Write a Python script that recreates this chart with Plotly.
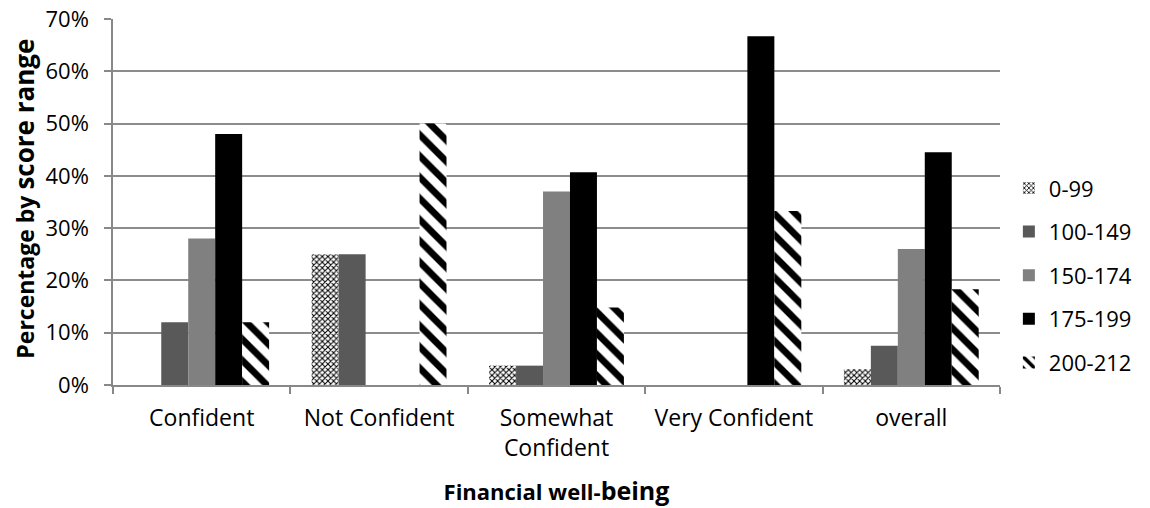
import plotly.graph_objects as go

categories = ["Confident", "Not Confident", "Somewhat<br>Confident", "Very Confident", "overall"]
series_names = ["0-99", "100-149", "150-174", "175-199", "200-212"]
v_0_99 = [0.0, 25.0, 3.7, 0.0, 3.0]
v_100_149 = [12.0, 25.0, 3.7, 0.0, 7.5]
v_150_174 = [28.0, 0.0, 37.0, 0.0, 26.0]
v_175_199 = [48.0, 0.0, 40.7, 66.7, 44.5]
v_200_212 = [12.0, 50.0, 14.8, 33.3, 18.3]
y_ticks = [0, 10, 20, 30, 40, 50, 60, 70]
y_tick_labels = ["0%", "10%", "20%", "30%", "40%", "50%", "60%", "70%"]

values = [v_0_99, v_100_149, v_150_174, v_175_199, v_200_212]
FONT = "Open Sans"

styles = [
    dict(color="white", pattern=dict(shape="x", size=4, solidity=0.45, fgcolor="#000000", bgcolor="#ffffff", fillmode="replace")),
    dict(color="#595959"),
    dict(color="#808080"),
    dict(color="#000000"),
    dict(color="white", pattern=dict(shape="\\", size=15, solidity=0.45, fgcolor="#000000", bgcolor="#ffffff", fillmode="replace")),
]

fig = go.Figure()
for name, vals, st in zip(series_names, values, styles):
    fig.add_trace(go.Bar(
        x=categories, y=vals, name=name, legendgroup=name,
        marker=dict(**st, line=dict(width=0)),
    ))

fig.add_annotation(
    text="<b>Percentage by <span style='font-size:26px'>score range</span></b>",
    xref="paper", yref="paper", x=-0.1, y=0.51, xanchor="center", yanchor="middle",
    textangle=-90, showarrow=False, font=dict(family=FONT, size=23, color="#000000"),
)

fig.update_layout(
    width=1150, height=508,
    margin=dict(l=113, r=150, t=19, b=123),
    paper_bgcolor="white", plot_bgcolor="white",
    barmode="group", bargap=0.24, bargroupgap=0,
    font=dict(family=FONT, size=20, color="#000000"),
    legend=dict(x=1.01, y=0.30, xanchor="left", yanchor="middle",
                font=dict(family=FONT, size=22), tracegroupgap=12,
                bgcolor="rgba(0,0,0,0)"),
    xaxis=dict(
        automargin=False,
        showline=True, linecolor="#888888", linewidth=1.5,
        ticks="outside", tickson="boundaries", ticklen=7, tickcolor="#888888", tickwidth=1.5,
        tickfont=dict(family=FONT, size=23), ticklabelstandoff=12,
        title=dict(text="<b>Financial well-<span style='font-size:25px'>being</span></b>",
                   font=dict(family=FONT, size=22), standoff=22),
    ),
    yaxis=dict(
        automargin=False,
        range=[0, 70], tickvals=y_ticks, ticktext=y_tick_labels,
        showgrid=True, gridcolor="#8c8c8c", gridwidth=1.5,
        showline=True, linecolor="#888888", linewidth=1.5,
        ticks="outside", ticklen=7, tickcolor="#888888", tickwidth=1.5,
        tickfont=dict(family=FONT, size=22), ticklabelstandoff=11,
        ticklabeloverflow="allow",
        zeroline=False,
    ),
)

fig.write_html("out.html", config={"displayModeBar": False},
               post_script="document.body.style.margin='0';document.body.style.overflow='hidden';")
